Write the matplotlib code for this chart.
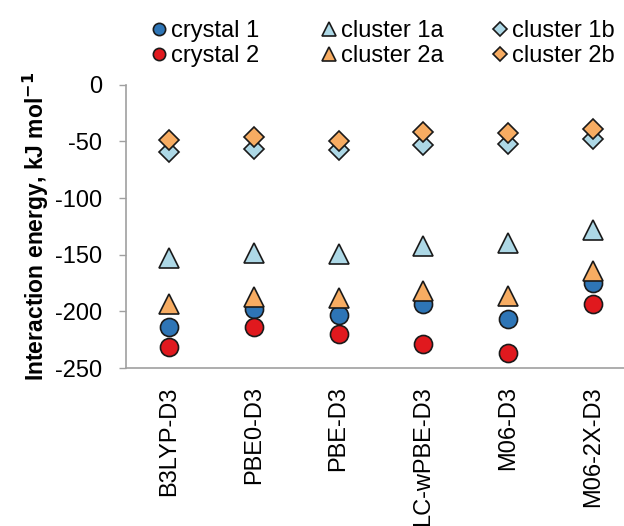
import matplotlib
matplotlib.use("Agg")
import matplotlib.pyplot as plt

plt.rcParams['font.family'] = ['Liberation Sans', 'DejaVu Sans']

# DATA
methods = ["B3LYP-D3", "PBE0-D3", "PBE-D3", "LC-wPBE-D3", "M06-D3", "M06-2X-D3"]

crystal_1 = [-213.5, -198, -203, -193.5, -206.5, -174.5]
crystal_2 = [-231, -214, -220, -228.5, -236.5, -193.5]
cluster_1a = [-152.5, -148, -149.5, -142, -139.5, -128]
cluster_2a = [-193, -187, -188.5, -182, -186, -164.5]
cluster_1b = [-59, -57, -57.5, -53, -52.5, -47.5]
cluster_2b = [-48.5, -46.5, -49.5, -42, -43, -39.5]

yticks = [0, -50, -100, -150, -200, -250]

# SERIES (orden de dibujo = orden de leyenda)
series = [
    ("crystal 1", crystal_1, "o", "#2E75B6", 13),
    ("crystal 2", crystal_2, "o", "#E0191E", 13),
    ("cluster 1a", cluster_1a, "^", "#ADD8E6", 14),
    ("cluster 2a", cluster_2a, "^", "#F7AC62", 14),
    ("cluster 1b", cluster_1b, "D", "#ADD8E6", 10),
    ("cluster 2b", cluster_2b, "D", "#F7AC62", 10),
]

fig = plt.figure(figsize=(6.24, 5.26), dpi=100)
ax = fig.add_axes([0.202, 0.300, 0.798, 0.539])

x = list(range(len(methods)))
handles = []
for label, vals, mk, col, ms in series:
    h, = ax.plot(x, vals, linestyle="none", marker=mk, markersize=ms,
                 markerfacecolor=col, markeredgecolor="#1a1a1a",
                 markeredgewidth=1.2, label=label, clip_on=False)
    handles.append(h)

ax.set_xlim(-0.507, 5.366)
ax.set_ylim(-250, 0)
ax.set_yticks(yticks)
ax.set_yticklabels([str(v) for v in yticks])
ax.set_xticks(x)
ax.set_xticklabels(methods, rotation=90)

ax.tick_params(axis="y", labelsize=17, length=5, width=1, color="#a0a0a0", pad=12)
ax.tick_params(axis="x", labelsize=17, length=0, pad=13)

for s in ["top", "right"]:
    ax.spines[s].set_visible(False)
for s in ["left", "bottom"]:
    ax.spines[s].set_color("#a0a0a0")
    ax.spines[s].set_linewidth(1.2)

ax.set_ylabel("Interaction energy, kJ mol$^{\\mathbf{-1}}$", fontsize=16.5,
              fontweight="bold", labelpad=3)

# leyenda: una columna por cada par
col_x = [152 / 624, 322 / 624, 493 / 624]
for i, cx in enumerate(col_x):
    leg = fig.legend(handles=handles[2 * i:2 * i + 2], loc="upper left",
                     bbox_to_anchor=(cx, 0.962), ncol=1, frameon=False,
                     fontsize=17, markerscale=0.68, handlelength=0.6,
                     handletextpad=0.2, labelspacing=0.12, borderaxespad=0,
                     borderpad=0)

fig.savefig("out.png", dpi=100)
